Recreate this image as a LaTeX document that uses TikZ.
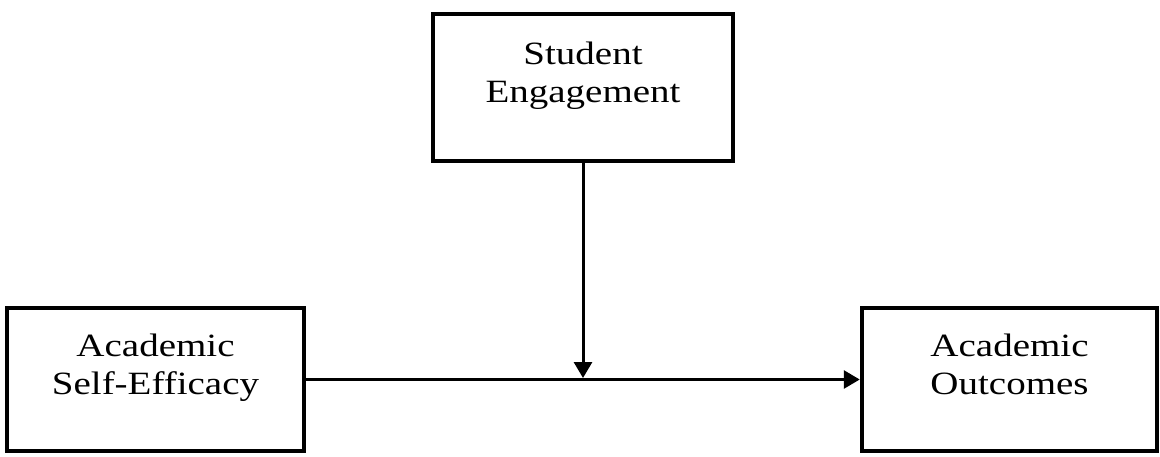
\documentclass[tikz,border=0pt]{standalone}
\usepackage{fontspec}
\setmainfont{Liberation Serif}
\newfontfamily\boxfont[FakeStretch=1.2]{Liberation Serif}
\usetikzlibrary{arrows.meta}

\tikzset{
  varbox/.style={draw=black, line width=4.5pt, fill=white, inner sep=0pt,
                 minimum width=#1, minimum height=145pt},
  varbox/.default=298pt,
  boxtext/.style={align=center, inner sep=0pt,
                  font=\boxfont\fontsize{32.5}{38.3}\selectfont},
  link/.style={line width=3pt, draw=black},
  linkarrow/.style={link, -{Triangle[length=16pt,width=18pt]}}
}

\begin{document}
\begin{tikzpicture}[x=1pt, y=-1pt]
  \useasboundingbox (0,0) rectangle (1160,456);

  % moderator and the two variables of the main path
  \node[varbox=300pt, minimum height=147pt] (se)  at (583,87.5)   {};
  \node[varbox=297pt, minimum height=143pt] (ase) at (155.5,379.5) {};
  \node[varbox=295pt, minimum height=143pt] (ao)  at (1009.5,379.5) {};

  % labels, set a little above the centre of each box
  \node[boxtext] (se-t)  at ([yshift=11.5pt]se.center)  {\strut Student\\Engagement\strut};
  \node[boxtext] (ase-t) at ([yshift=11.5pt]ase.center) {\strut Academic\\Self-Efficacy\strut};
  \node[boxtext] (ao-t)  at ([yshift=11.5pt]ao.center)  {\strut Academic\\Outcomes\strut};

  % main path and the moderating arrow meeting it
  \coordinate (mid) at (se.south |- ase.east);
  \draw[linkarrow] (ase.east) -- (ao.west);
  \draw[linkarrow, shorten >=1.5pt] (se.south) -- (mid);
\end{tikzpicture}
\end{document}
